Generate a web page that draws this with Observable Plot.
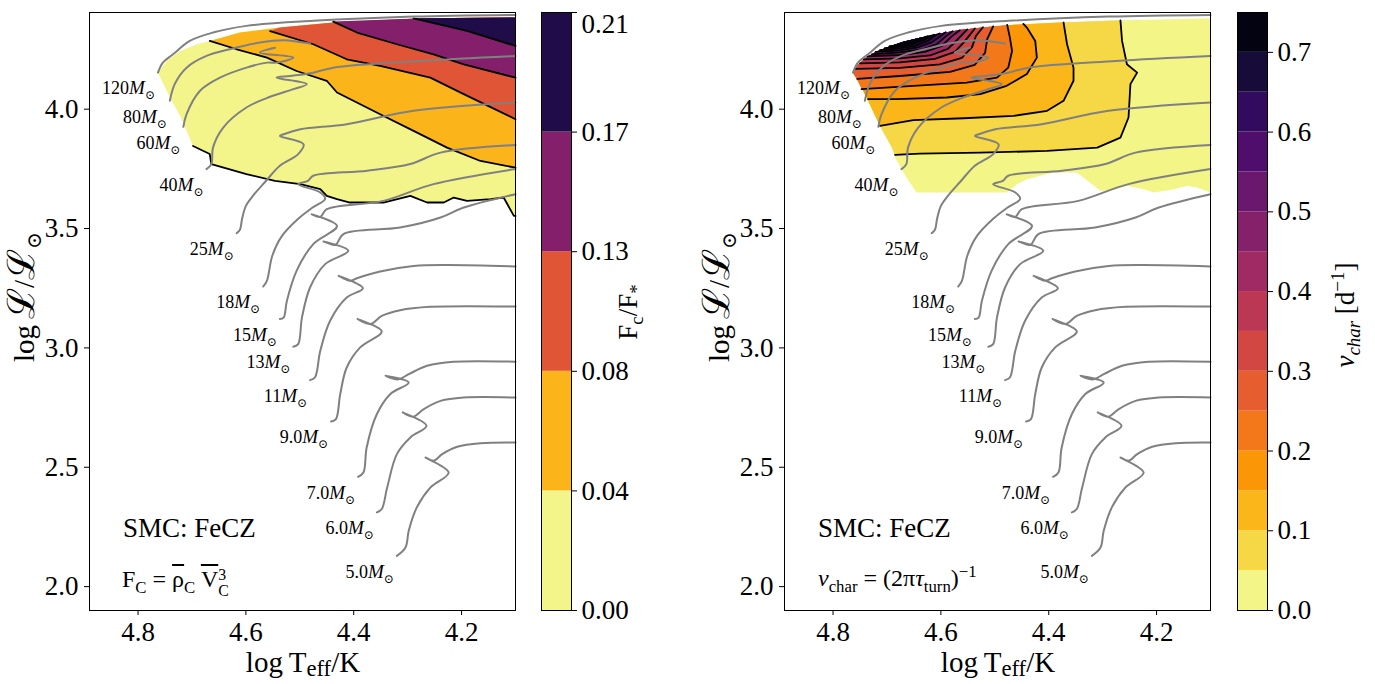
<!DOCTYPE html>
<html><head><meta charset="utf-8">
<script src="https://cdn.jsdelivr.net/npm/d3@7"></script>
<script src="https://cdn.jsdelivr.net/npm/@observablehq/plot@0.6"></script>
<style>
body{margin:0;background:#fff;}
#wrap{position:relative;width:1375px;height:684px;overflow:hidden;font-family:"Liberation Serif","DejaVu Serif",serif;color:#000;background:#fff;}
.t{position:absolute;white-space:nowrap;line-height:1;}
.c{text-align:center;}
sub,sup{font-size:0.7em;line-height:0;}
.ol{text-decoration:overline;}
.ss{display:inline-flex;flex-direction:column;vertical-align:0.42em;line-height:1.0;font-size:0.66em;}
.scr{font-size:1.3em;line-height:0;}
.lsub{font-size:0.78em;vertical-align:-0.18em;line-height:0;}
</style></head><body><div id="wrap"></div>
<script>
// ---------------- data ----------------
const xTicks = [4.8, 4.6, 4.4, 4.2];
const yTicks = [2.0, 2.5, 3.0, 3.5, 4.0];
const massLabels = ["120","80","60","40","25","18","15","13","11","9.0","7.0","6.0","5.0"];

// evolutionary tracks [log Teff, log L]
const track120 = [[4.763,4.153],[4.754,4.195],[4.735,4.230],[4.704,4.286],[4.661,4.321],[4.599,4.349],[4.475,4.370],[4.289,4.388],[4.100,4.395]];
const track80 = [[4.741,4.035],[4.732,4.105],[4.710,4.174],[4.673,4.223],[4.630,4.251],[4.574,4.279],[4.530,4.289],[4.481,4.275]];
const track60 = [[4.716,3.926],[4.710,3.979],[4.685,4.077],[4.648,4.132],[4.599,4.174],[4.561,4.195],[4.543,4.195],[4.512,4.216],[4.574,4.237],[4.546,4.257]];
const track40 = [[4.673,3.749],[4.664,3.770],[4.661,3.839],[4.642,3.923],[4.599,4.007],[4.555,4.052],[4.512,4.084],[4.487,4.105],[4.543,4.132],[4.518,4.139],[4.475,4.153],[4.438,4.174],[4.276,4.202],[4.100,4.223]];
const track25 = [[4.617,3.481],[4.611,3.495],[4.607,3.541],[4.600,3.595],[4.587,3.637],[4.564,3.696],[4.537,3.763],[4.503,3.812],[4.493,3.853],[4.537,3.888],[4.530,3.895],[4.499,3.916],[4.413,3.937],[4.289,3.993],[4.100,4.028]];
const track18 = [[4.568,3.257],[4.561,3.281],[4.551,3.386],[4.533,3.469],[4.503,3.541],[4.477,3.587],[4.453,3.624],[4.462,3.651],[4.503,3.686],[4.485,3.700],[4.475,3.721],[4.375,3.742],[4.295,3.770],[4.239,3.818],[4.100,3.850]];
const track15 = [[4.537,3.121],[4.530,3.127],[4.524,3.197],[4.506,3.323],[4.475,3.435],[4.431,3.511],[4.478,3.560],[4.462,3.549],[4.450,3.581],[4.345,3.616],[4.252,3.686],[4.100,3.749]];
const track13 = [[4.512,3.005],[4.503,3.016],[4.496,3.127],[4.481,3.253],[4.453,3.351],[4.410,3.407],[4.456,3.446],[4.434,3.432],[4.419,3.477],[4.314,3.504],[4.239,3.546],[4.196,3.588],[4.100,3.644]];
const track11 = [[4.481,2.865],[4.472,2.876],[4.462,2.988],[4.444,3.113],[4.413,3.211],[4.383,3.250],[4.428,3.302],[4.407,3.281],[4.394,3.292],[4.351,3.320],[4.289,3.343],[4.227,3.347],[4.100,3.341]];
const track9 = [[4.442,2.692],[4.433,2.702],[4.425,2.807],[4.413,2.918],[4.388,3.002],[4.348,3.069],[4.393,3.121],[4.369,3.100],[4.348,3.134],[4.314,3.158],[4.258,3.172],[4.100,3.173]];
const track7 = [[4.392,2.460],[4.382,2.478],[4.376,2.583],[4.357,2.723],[4.332,2.807],[4.298,2.855],[4.341,2.883],[4.318,2.868],[4.298,2.890],[4.264,2.925],[4.215,2.942],[4.100,2.942]];
const track6 = [[4.357,2.311],[4.348,2.325],[4.338,2.415],[4.320,2.555],[4.295,2.625],[4.265,2.674],[4.309,2.730],[4.290,2.712],[4.270,2.744],[4.239,2.778],[4.196,2.792],[4.100,2.792]];
const track5 = [[4.320,2.129],[4.304,2.164],[4.298,2.234],[4.283,2.332],[4.258,2.415],[4.224,2.478],[4.267,2.541],[4.252,2.527],[4.236,2.555],[4.208,2.586],[4.165,2.601],[4.100,2.604]];

// left panel: F_c/F_* domain and contour lines
const fcLevels = [0, 0.0425, 0.085, 0.1275, 0.17, 0.2125];
const fcTickLabels = ["0.00","0.04","0.08","0.13","0.17","0.21"];
const fcColors = ["#f3f58b","#fbb41a","#e05536","#831f6b","#1f0c48"];
const fcRegionTop = [[4.763,4.153],[4.747,4.202],[4.722,4.244],[4.691,4.272],[4.667,4.286],[4.611,4.321],[4.537,4.342],[4.438,4.363],[4.271,4.381],[4.100,4.384]];
const fcRegionBottom = [[4.763,4.153],[4.741,4.049],[4.722,3.972],[4.698,3.846],[4.667,3.812],[4.664,3.770],[4.599,3.728],[4.546,3.700],[4.499,3.686],[4.462,3.665],[4.450,3.637],[4.431,3.623],[4.407,3.609],[4.345,3.609],[4.295,3.637],[4.264,3.609],[4.233,3.609],[4.2145,3.630],[4.190,3.616],[4.146,3.623],[4.122,3.630],[4.103,3.553],[4.100,3.553]];
const fcContour1 = [[4.667,4.286],[4.617,4.251],[4.561,4.216],[4.506,4.160],[4.450,4.119],[4.431,4.070],[4.351,3.979],[4.289,3.909],[4.227,3.839],[4.165,3.783],[4.100,3.755]];
const fcContour2 = [[4.555,4.327],[4.475,4.272],[4.413,4.209],[4.351,4.181],[4.258,4.132],[4.196,4.063],[4.100,3.958]];
const fcContour3 = [[4.438,4.367],[4.394,4.321],[4.320,4.272],[4.252,4.230],[4.196,4.188],[4.100,4.132]];
const fcContour4 = [[4.289,4.380],[4.190,4.328],[4.100,4.265]];

// right panel: nu_char domain and contour lines
const nuLevels = [0,0.05,0.10,0.15,0.20,0.25,0.30,0.35,0.40,0.45,0.50,0.55,0.60,0.65,0.70,0.75];
const nuTicks = [0,0.1,0.2,0.3,0.4,0.5,0.6,0.7];
const nuRegionTop = [[4.763,4.153],[4.754,4.186],[4.739,4.215],[4.721,4.240],[4.698,4.261],[4.670,4.282],[4.639,4.299],[4.602,4.317],[4.565,4.332],[4.509,4.345],[4.453,4.355],[4.379,4.363],[4.280,4.371],[4.193,4.376],[4.100,4.381]];
const nuRegionBottom = [[4.763,4.153],[4.754,4.119],[4.735,4.035],[4.713,3.930],[4.691,3.839],[4.685,3.797],[4.664,3.714],[4.645,3.651],[4.478,3.651],[4.459,3.686],[4.4405,3.707],[4.391,3.735],[4.348,3.735],[4.304,3.658],[4.286,3.658],[4.255,3.679],[4.224,3.665],[4.205,3.651],[4.168,3.665],[4.143,3.679],[4.1245,3.672],[4.100,3.651]];
const nu05 = [[4.685,3.809],[4.639,3.814],[4.527,3.818],[4.403,3.825],[4.310,3.839],[4.267,3.881],[4.252,3.965],[4.2485,4.105],[4.236,4.153],[4.255,4.188],[4.264,4.286],[4.267,4.372]];
const nu10 = [[4.713,3.930],[4.651,3.954],[4.558,3.962],[4.465,3.972],[4.403,3.993],[4.3725,4.035],[4.354,4.119],[4.354,4.174],[4.366,4.272],[4.3725,4.363]];
const nu15 = [[4.735,4.042],[4.682,4.042],[4.589,4.049],[4.527,4.063],[4.478,4.098],[4.4405,4.147],[4.422,4.216],[4.425,4.286],[4.4405,4.342],[4.447,4.357]];
const nu20 = [[4.747,4.084],[4.651,4.098],[4.552,4.111],[4.496,4.132],[4.475,4.174],[4.468,4.244],[4.472,4.300],[4.477,4.353]];
const nu25 = [[4.755,4.127],[4.676,4.139],[4.583,4.156],[4.537,4.186],[4.518,4.236],[4.514,4.294],[4.503,4.347]];
const nu30 = [[4.759,4.169],[4.676,4.173],[4.602,4.188],[4.561,4.215],[4.542,4.261],[4.535,4.307],[4.522,4.343]];
const nu35 = [[4.750,4.192],[4.676,4.196],[4.611,4.211],[4.574,4.240],[4.555,4.286],[4.537,4.338]];
const nu40 = [[4.743,4.209],[4.676,4.213],[4.620,4.225],[4.587,4.253],[4.568,4.294],[4.551,4.334]];
const nu45 = [[4.736,4.221],[4.676,4.227],[4.630,4.240],[4.598,4.265],[4.581,4.303],[4.565,4.331]];
const nu50 = [[4.728,4.230],[4.676,4.238],[4.635,4.250],[4.607,4.273],[4.591,4.305],[4.578,4.327]];
const nu55 = [[4.721,4.240],[4.676,4.246],[4.643,4.259],[4.617,4.280],[4.600,4.307],[4.591,4.322]];
const nu60 = [[4.713,4.247],[4.676,4.255],[4.648,4.265],[4.624,4.286],[4.609,4.311],[4.602,4.317]];
const nu65 = [[4.704,4.256],[4.676,4.262],[4.654,4.271],[4.631,4.290],[4.618,4.307],[4.613,4.312]];
const nu70 = [[4.695,4.264],[4.676,4.268],[4.657,4.276],[4.639,4.292],[4.628,4.303],[4.624,4.306]];

// ---------------- helpers ----------------
const tracks = [track120,track80,track60,track40,track25,track18,track15,track13,track11,track9,track7,track6,track5]
  .map((pts, i) => ({m: massLabels[i], pts}));
const trackRows = tracks.flatMap(t => t.pts.map(p => ({m: t.m, x: p[0], y: p[1]})));
const nuColors = nuLevels.slice(0, -1).map((_, i) => d3.interpolateInferno(1 - (i + 0.5) / (nuLevels.length - 1)));

const KX = 2.25;
function proj(B, p) {
  let best = Infinity, s = 0;
  for (let i = 0; i < B.length - 1; i++) {
    const dx = (B[i+1][0]-B[i][0])*KX, dy = B[i+1][1]-B[i][1];
    const px = (p[0]-B[i][0])*KX, py = p[1]-B[i][1];
    const L2 = dx*dx + dy*dy;
    let t = L2 ? (px*dx + py*dy)/L2 : 0; t = Math.max(0, Math.min(1, t));
    const ex = px - t*dx, ey = py - t*dy, d = ex*ex + ey*ey;
    if (d < best) { best = d; s = i + t; }
  }
  return s;
}
function superPolygon(c, B) {
  const sP = proj(B, c[0]), sQ = proj(B, c[c.length-1]);
  const lo = Math.min(sP, sQ), hi = Math.max(sP, sQ);
  const idx = [];
  for (let i = Math.ceil(lo); i <= Math.floor(hi); i++) if (i > lo + 1e-6 && i < hi - 1e-6) idx.push(i);
  if (sQ > sP) idx.reverse();
  return c.concat(idx.map(i => B[i]));
}

const wrap = document.getElementById("wrap");
function place(el, left, top) {
  const d = document.createElement("div");
  d.style.position = "absolute"; d.style.left = left + "px"; d.style.top = top + "px";
  d.appendChild(el); wrap.appendChild(d); return d;
}
function text(html, left, top, size, cls = "", width = null) {
  const d = document.createElement("div");
  d.className = "t " + cls; d.innerHTML = html;
  d.style.left = left + "px"; d.style.top = top + "px"; d.style.fontSize = size + "px";
  if (width) d.style.width = width + "px";
  wrap.appendChild(d); return d;
}
function rotText(html, cx, cy, size) {
  const d = text(html, cx - 150, cy - 15, size, "c", 300);
  d.style.height = "30px"; d.style.lineHeight = "30px"; d.style.transform = "rotate(-90deg)";
  return d;
}
const FONT = '"Liberation Serif","DejaVu Serif",serif';

function hrPanel(cfg) {
  const region = cfg.top.concat(cfg.bottom.slice().reverse());
  const layers = [{pts: region, color: cfg.colors[0]}]
    .concat(cfg.contours.map((c, i) => ({pts: superPolygon(c, cfg.B), color: cfg.colors[i + 1]})));
  const marks = layers.map(l => Plot.line(l.pts, {x: d => d[0], y: d => d[1], fill: l.color, stroke: "none", curve: "linear-closed"}));
  cfg.contours.forEach(c => marks.push(Plot.line(c, {x: d => d[0], y: d => d[1], stroke: "black", strokeWidth: 1.8})));
  if (cfg.edge) marks.push(Plot.line(cfg.edge, {x: d => d[0], y: d => d[1], stroke: "black", strokeWidth: 1.8}));
  marks.push(Plot.line(trackRows, {x: "x", y: "y", z: "m", stroke: "#808080", strokeWidth: 2, curve: "catmull-rom"}));
  marks.push(Plot.text(tracks, {x: t => t.pts[0][0], y: t => t.pts[0][1], text: "m", textAnchor: "end", dx: -3, dy: 16, fontSize: 18}));
  marks.push(Plot.frame({stroke: "black", strokeWidth: 1}));
  const svg = Plot.plot({
    width: 530, height: 684, marginLeft: 89, marginRight: 15, marginTop: 12, marginBottom: 74,
    style: {fontFamily: FONT, fontSize: "27px", background: "transparent", color: "black", overflow: "visible"},
    x: {domain: [4.89, 4.1], ticks: xTicks, tickFormat: d => d.toFixed(1), label: null, tickSize: 5, tickPadding: 6},
    y: {domain: [1.9, 4.405], ticks: yTicks, tickFormat: d => d.toFixed(1), label: null, tickSize: 5, tickPadding: 6},
    marks
  });
  const ns = "http://www.w3.org/2000/svg";
  svg.querySelectorAll('g[aria-label="text"] text').forEach(t => {
    const s = t.textContent; t.textContent = "";
    const a = document.createElementNS(ns, "tspan"); a.textContent = s; t.appendChild(a);
    const b = document.createElementNS(ns, "tspan"); b.textContent = "M"; b.setAttribute("font-style", "italic"); b.setAttribute("font-size", "19"); t.appendChild(b);
    const c = document.createElementNS(ns, "tspan"); c.textContent = "\u2299"; c.setAttribute("font-size", "12"); c.setAttribute("dy", "5"); t.appendChild(c);
  });
  place(svg, cfg.left, 0);
}

function colorbar(levels, colors, ticks, fmt, left) {
  const bands = colors.map((c, i) => ({lo: levels[i], hi: levels[i + 1], c}));
  const svg = Plot.plot({
    width: 100, height: 684, marginLeft: 0, marginRight: 70, marginTop: 12, marginBottom: 74,
    style: {fontFamily: FONT, fontSize: "27px", background: "transparent", color: "black", overflow: "visible"},
    x: {domain: [0, 1], axis: null},
    y: {domain: [levels[0], levels[levels.length - 1]], ticks, tickFormat: fmt, axis: "right", tickSize: 5, tickPadding: 5, label: null},
    color: {type: "identity"},
    marks: [
      Plot.rect(bands, {x1: () => 0, x2: () => 1, y1: "lo", y2: "hi", fill: "c"}),
      Plot.frame({stroke: "black", strokeWidth: 1})
    ]
  });
  // keep the top tick label fully inside the picture
  const labels = svg.querySelectorAll('g[aria-label="y-axis tick label"] text');
  labels.forEach(t => {
    const tr = t.getAttribute("transform") || "";
    const m = /translate\(([^,\s]+)[,\s]+([^)]+)\)/.exec(tr);
    if (m && parseFloat(m[2]) < 16) t.setAttribute("dy", "0.45em");
  });
  place(svg, left, 0);
}

// ---------------- panels ----------------
hrPanel({left: 0, top: fcRegionTop, bottom: fcRegionBottom, colors: fcColors,
  contours: [fcContour1, fcContour2, fcContour3, fcContour4],
  B: fcRegionTop.concat(fcRegionBottom.slice().reverse()),
  edge: fcRegionBottom.slice(3)});
hrPanel({left: 695, top: nuRegionTop, bottom: nuRegionBottom, colors: nuColors,
  contours: [nu05,nu10,nu15,nu20,nu25,nu30,nu35,nu40,nu45,nu50,nu55,nu60,nu65,nu70],
  B: nuRegionBottom.slice().reverse().concat(nuRegionTop.slice(1)),
  edge: null});

colorbar(fcLevels, fcColors, fcLevels, d => fcTickLabels[fcLevels.indexOf(d)], 541);
colorbar(nuLevels, nuColors, nuTicks, d => d.toFixed(1), 1237);

// ---------------- texts ----------------
for (const off of [0, 695]) {
  text("SMC: FeCZ", 123 + off, 515, 27);
  text('log\u2009T<span class="lsub">eff</span>/K', 303 + off - 200, 648, 29, "c", 400);
  rotText('log\u2009<span class="scr">\u2112</span>/<span class="scr">\u2112</span><sub>\u2299</sub>', 24 + off, 297, 29);
}
text('F<sub>C</sub> = <span class="ol">\u03C1</span><sub>C</sub> <span class="ol">V</span><span class="ss"><span>3</span><span>C</span></span>', 122, 567, 24);
text('<i>\u03BD</i><sub>char</sub> = (2\u03C0<i>\u03C4</i><sub>turn</sub>)<sup>\u22121</sup>', 818, 566, 24);
rotText("F<sub>c</sub>/F<sub>*</sub>", 628, 312, 27);
rotText("<i>\u03BD<sub>char</sub></i> [d<sup>\u22121</sup>]", 1345, 315, 27);
</script></body></html>
